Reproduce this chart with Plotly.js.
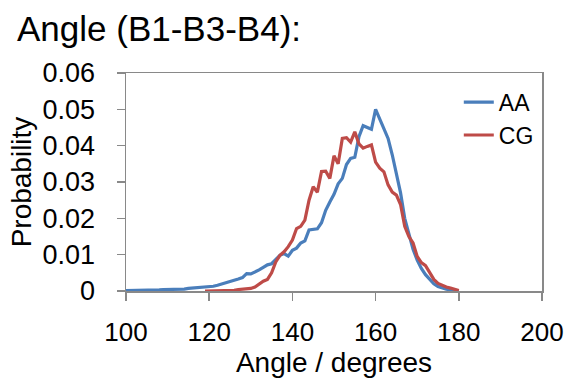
<!DOCTYPE html>
<html>
<head>
<meta charset="utf-8">
<script src="https://cdn.plot.ly/plotly-3.0.1.min.js"></script>
<style>html,body{margin:0;padding:0;background:#fff;}#chart{width:572px;height:378px;}</style>
</head>
<body>
<div id="chart"></div>
<script>
var aaAngles = [100,101,102,103,104,105,106,107,108,109,110,111,112,113,114,115,116,117,118,119,120,121,122,123,124,125,126,127,128,129,130,131,132,133,134,135,136,137,138,139,140,141,142,143,144,145,146,147,148,149,150,151,152,153,154,155,156,157,158,159,160,161,162,163,164,165,166,167,168,169,170,171,172,173,174,175,176,177,178,179,180];
var aaProb = [0.0001,0.0001,0.0001,0.0002,0.0002,0.0002,0.0002,0.0003,0.0003,0.0004,0.0004,0.0005,0.0006,0.0005,0.0005,0.0007,0.0008,0.0007,0.0009,0.0011,0.0012,0.0013,0.0016,0.0019,0.0022,0.0027,0.0029,0.0033,0.0037,0.0048,0.0047,0.0052,0.0058,0.0065,0.0072,0.0075,0.0088,0.0098,0.0103,0.0096,0.0112,0.0118,0.0132,0.0138,0.0168,0.0169,0.0171,0.0188,0.0222,0.0245,0.0266,0.0295,0.0310,0.0348,0.0365,0.0368,0.0425,0.0455,0.0450,0.0445,0.0500,0.0475,0.0445,0.0420,0.0375,0.0320,0.0270,0.0200,0.0155,0.0115,0.0085,0.0062,0.0045,0.0033,0.0020,0.0012,0.0008,0.0005,0.0003,0.0001,0.0000];

var cgAngles = [119,120,121,122,123,124,125,126,127,128,129,130,131,132,133,134,135,136,137,138,139,140,141,142,143,144,145,146,147,148,149,150,151,152,153,154,155,156,157,158,159,160,161,162,163,164,165,166,167,168,169,170,171,172,173,174,175,176,177,178,179,180];
var cgProb = [0.0000,0.0000,0.0001,0.0001,0.0001,0.0001,0.0001,0.0002,0.0004,0.0005,0.0004,0.0007,0.0011,0.0020,0.0027,0.0032,0.0050,0.0080,0.0098,0.0108,0.0122,0.0140,0.0172,0.0178,0.0195,0.0250,0.0287,0.0272,0.0329,0.0330,0.0310,0.0372,0.0350,0.0420,0.0422,0.0410,0.0438,0.0405,0.0393,0.0398,0.0402,0.0355,0.0338,0.0328,0.0292,0.0272,0.0264,0.0238,0.0178,0.0150,0.0132,0.0095,0.0078,0.0070,0.0050,0.0032,0.0021,0.0015,0.0011,0.0008,0.0004,0.0001];

var seriesNames = ["AA", "CG"];
var xTickVals = [100,120,140,160,180,200];
var xTickText = ["100","120","140","160","180","200"];
var yTickVals = [0,0.01,0.02,0.03,0.04,0.05,0.06];
var yTickText = ["0","0.01","0.02","0.03","0.04","0.05","0.06"];

var FONT = "Liberation Sans, Arial, sans-serif";

var traces = [
  {x: aaAngles, y: aaProb, name: seriesNames[0], type: "scatter", mode: "lines",
   line: {color: "#4A7EBB", width: 3.2}, legendgroup: "a"},
  {x: cgAngles, y: cgProb, name: seriesNames[1], type: "scatter", mode: "lines",
   line: {color: "#BE4B48", width: 3.2}, legendgroup: "b"}
];

var axisLine = "#898989";
var layout = {
  width: 572, height: 378,
  margin: {l: 126, r: 30, t: 73, b: 87, pad: 0},
  paper_bgcolor: "#ffffff", plot_bgcolor: "#ffffff",
  font: {family: FONT, color: "#000000"},
  title: {text: "Angle (B1-B3-B4):", font: {family: FONT, size: 35, color: "#000"},
          xref: "container", yref: "container", x: 17/572, xanchor: "left", y: 1 - 29/378, yanchor: "middle"},
  showlegend: true,
  legend: {x: 0.80, y: 0.965, xanchor: "left", yanchor: "top", bgcolor: "rgba(0,0,0,0)",
           font: {family: FONT, size: 23, color: "#000"}, tracegroupgap: 0, traceorder: "grouped"},
  xaxis: {range: [100, 200], tickmode: "array", tickvals: xTickVals, ticktext: xTickText,
          showgrid: false, zeroline: false, showline: true, linecolor: axisLine, linewidth: 1.5,
          mirror: true, ticks: "outside", ticklen: 8, tickcolor: axisLine, tickwidth: 1.5,
          tickfont: {family: FONT, size: 26, color: "#000"}, ticklabelstandoff: 9,
          title: {text: "Angle / degrees", font: {family: FONT, size: 28, color: "#000"}, standoff: 0}},
  yaxis: {range: [0, 0.06], tickmode: "array", tickvals: yTickVals, ticktext: yTickText,
          showgrid: false, zeroline: false, showline: true, linecolor: axisLine, linewidth: 1.5,
          mirror: true, ticks: "outside", ticklen: 8, tickcolor: axisLine, tickwidth: 1.5,
          tickfont: {family: FONT, size: 27, color: "#000"}, ticklabelstandoff: 16,
          title: {text: "Probability", font: {family: FONT, size: 28, color: "#000"}, standoff: 2}}
};

Plotly.newPlot("chart", traces, layout, {staticPlot: true, displayModeBar: false});
</script>
</body>
</html>
